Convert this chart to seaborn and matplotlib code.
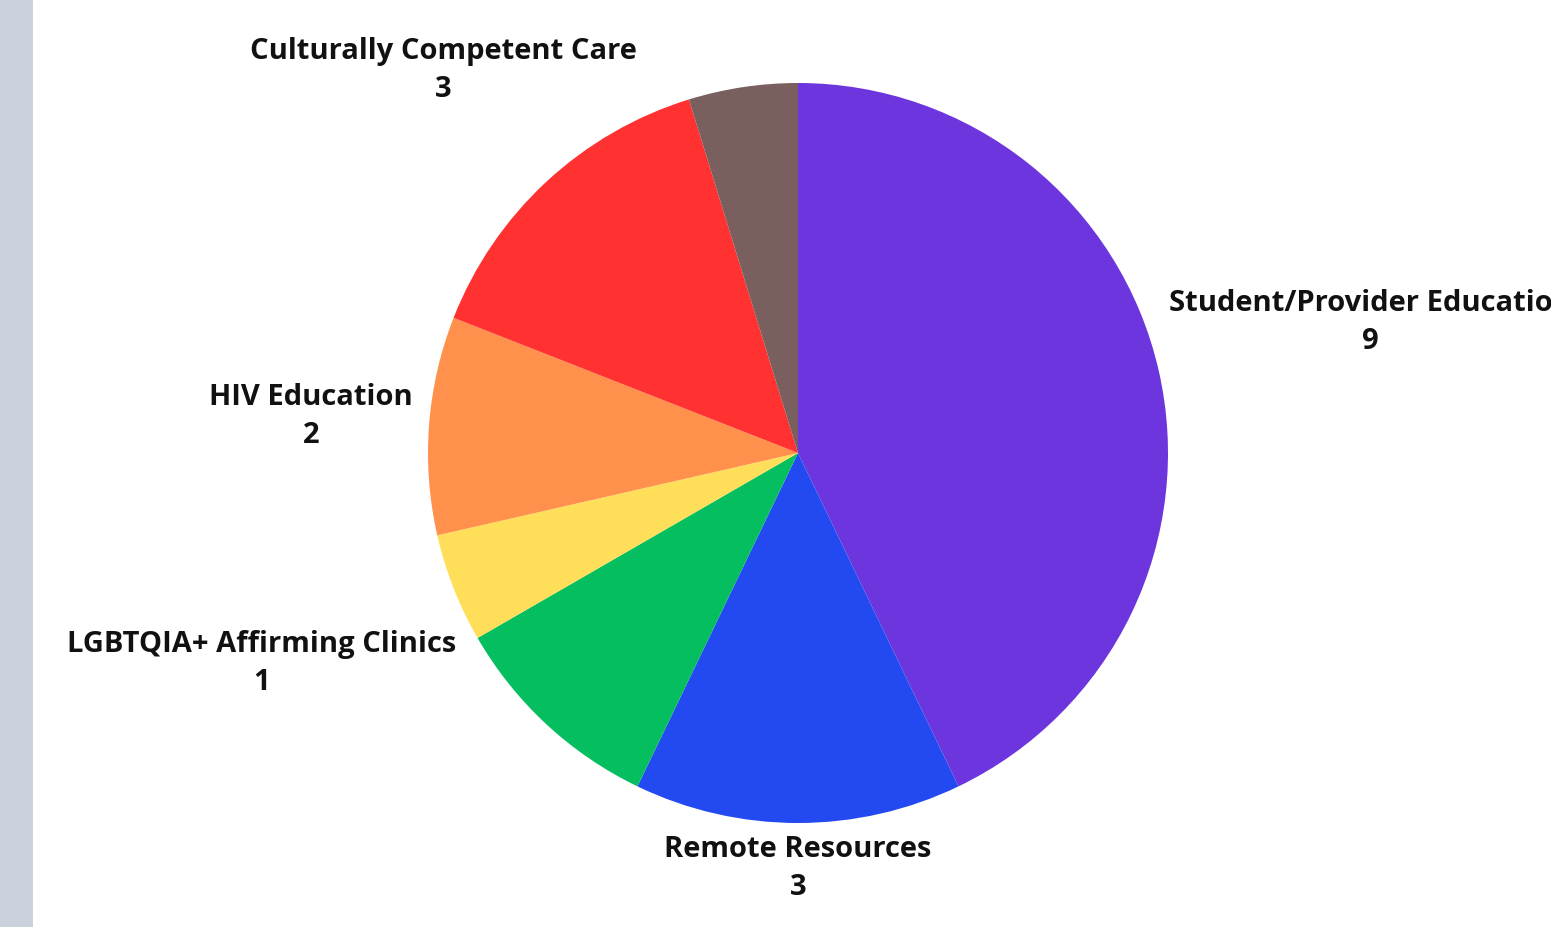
import matplotlib
matplotlib.use("Agg")
import numpy as np
import seaborn as sns
import matplotlib.pyplot as plt
from matplotlib.patches import Rectangle

# --- data (clockwise from 12 o'clock) ---
categories = ["Student/Provider Education", "Remote Resources", "Green slice",
              "LGBTQIA+ Affirming Clinics", "HIV Education",
              "Culturally Competent Care", "Brown slice"]
counts = [9, 3, 2, 1, 2, 3, 1]
show_label = [True, True, False, True, True, True, False]
colors = ["#6c35de", "#234af0", "#04be5f", "#ffde59", "#ff914d", "#ff3131", "#7a5f5f"]

# distance of each label from the centre, in radii
label_dist = [1.586, 1.124, 1.3, 1.557, 1.32, 1.41, 1.3]

sns.set_theme(style="white")
plt.rcParams["font.family"] = ["Open Sans", "DejaVu Sans"]

W, H = 1551, 927
fig = plt.figure(figsize=(W / 100, H / 100), dpi=100)
fig.patch.set_facecolor("white")

# grey strip on the left edge
fig.patches.append(Rectangle((0, 0), 33 / W, 1, transform=fig.transFigure,
                             facecolor="#cbd2de", edgecolor="none", zorder=0))

ax = fig.add_axes([0, 0, 1, 1])
ax.set_facecolor("none")

cx, cy, r = 798, H - 453, 370
wedges, _ = ax.pie(counts, colors=colors, startangle=90, counterclock=False,
                   radius=1, wedgeprops=dict(linewidth=0, antialiased=True))

ax.set_xlim(-cx / r, (W - cx) / r)
ax.set_ylim(-cy / r, (H - cy) / r)
ax.set_aspect("auto")
ax.axis("off")

for w, name, n, show, d in zip(wedges, categories, counts, show_label, label_dist):
    if not show:
        continue
    mid = np.deg2rad((w.theta1 + w.theta2) / 2)
    x, y = d * np.cos(mid), d * np.sin(mid)
    ax.text(x, y, f"{name}\n{n}", ha="center", va="center",
            fontsize=21, fontweight="bold", color="#111111",
            linespacing=1.4, clip_on=False)

fig.savefig("out.png", dpi=100)
